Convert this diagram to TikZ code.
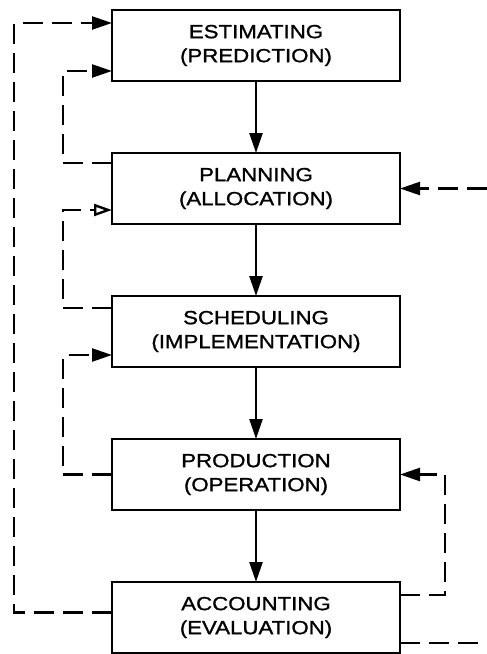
\documentclass[tikz,border=0pt]{standalone}
\usepackage{fontspec}
\setmainfont{Liberation Sans}[FakeStretch=1.17,FakeBold=1.2]
\usetikzlibrary{positioning,calc,arrows.meta}

\begin{document}
\begin{tikzpicture}[x=1pt,y=1pt,line width=2.4pt,
    box/.style={draw,minimum width=288pt,minimum height=71pt,inner sep=0pt,outer sep=0pt,
        align=center,font=\fontsize{19}{24}\selectfont},
    flow/.style={-{Triangle[length=20pt,width=13pt]}},
    fb/.style={dash pattern=on 20pt off 9pt},
    node distance=72pt]

        \useasboundingbox (0,0) rectangle (487,-654);

        %stages
        \node[box] (est) at (256,-45.5) {ESTIMATING\\(PREDICTION)};
        \node[box,below=of est] (plan) {PLANNING\\(ALLOCATION)};
        \node[box,below=of plan] (sched) {SCHEDULING\\(IMPLEMENTATION)};
        \node[box,below=of sched] (prod) {PRODUCTION\\(OPERATION)};
        \node[box,below=of prod] (acct) {ACCOUNTING\\(EVALUATION)};

        %main flow
        \foreach \a/\b in {est/plan,plan/sched,sched/prod,prod/acct}
        \draw[flow] (\a) -- (\b);

        %feedback, left side
        \draw[fb,flow] ($(plan.north west)+(0,-10)$) -- ++(-49,0) |- ($(est.south west)+(0,10)$);
        \draw[fb,-{Triangle[open,length=18pt,width=12pt]}] ($(sched.north west)+(0,-12)$) -- ++(-49,0) |- ($(plan.south west)+(0,14)$);
        \draw[fb,flow] (prod.west) -- ++(-49,0) |- ($(sched.south west)+(0,12)$);
        \draw[fb,flow] ($(acct.west)+(0,5)$) -- ++(-98,0) |- ($(est.north west)+(0,-13)$);

        %feedback, right side
        \coordinate (planR) at ($(plan.east)+(87,0)$);
        \coordinate (acctR) at ($(acct.south east)+(87,10)$);
        \draw[fb,flow] ($(acct.north east)+(0,-13)$) -- ++(45,0) |- (prod.east);
        \draw[fb,flow] (planR) -- (plan.east);
        \draw[fb] ($(acct.south east)+(0,10)$) -- (acctR);

\end{tikzpicture}
\end{document}
